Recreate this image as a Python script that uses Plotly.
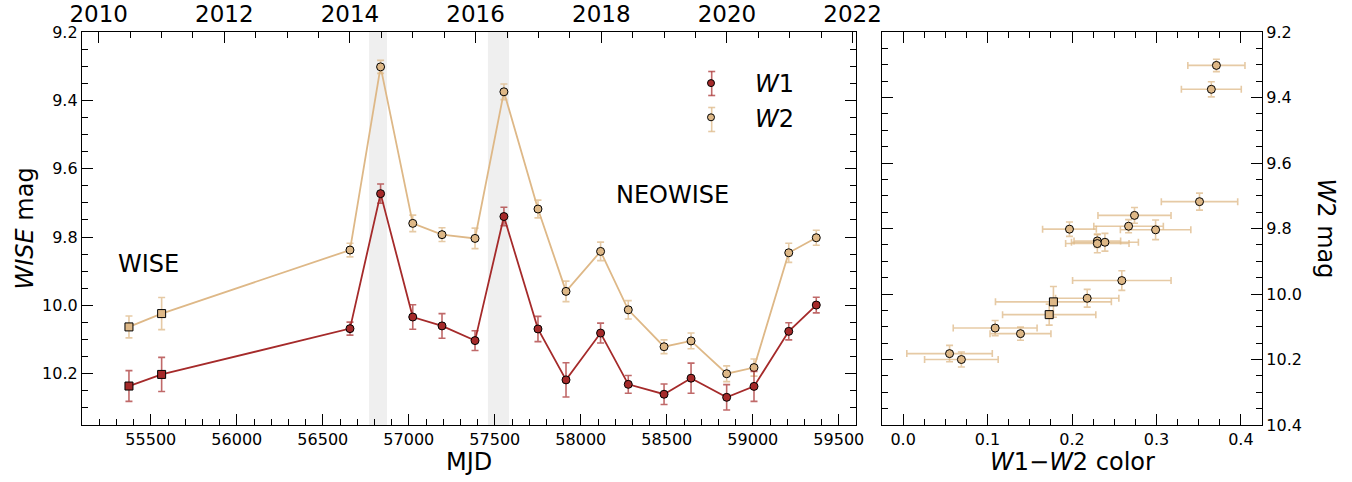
import plotly.graph_objects as go
import numpy as np

# ---------------- data ----------------
mjd = [55373, 55563, 56658, 56836, 57023, 57193, 57385, 57553, 57751, 57914,
       58115, 58276, 58484, 58641, 58848, 59007, 59209, 59369]
w1 = [10.236, 10.202, 10.068, 9.673, 10.034, 10.060, 10.103, 9.740, 10.069, 10.218,
      10.081, 10.231, 10.260, 10.213, 10.269, 10.237, 10.076, 9.999]
w1_err = [0.045, 0.050, 0.019, 0.028, 0.036, 0.036, 0.029, 0.027, 0.037, 0.050,
          0.029, 0.026, 0.030, 0.044, 0.037, 0.044, 0.025, 0.023]
w2 = [10.063, 10.024, 9.838, 9.302, 9.760, 9.793, 9.804, 9.375, 9.718, 9.959,
      9.842, 10.013, 10.121, 10.104, 10.200, 10.182, 9.846, 9.802]
w2_err = [0.032, 0.047, 0.020, 0.019, 0.024, 0.020, 0.030, 0.023, 0.026, 0.030,
          0.027, 0.027, 0.020, 0.023, 0.023, 0.025, 0.028, 0.022]
n_wise = 2  # first epochs are WISE (squares), rest NEOWISE (circles)
shade_intervals = [(56769, 56873), (57460, 57583)]

mjd_range = [55100, 59600]
mag_range_left = [10.35, 9.2]
mag_range_right = [10.4, 9.2]
color_range = [-0.025, 0.425]

C1 = "#a52a2a"
C2 = "#deb887"
C1E = "rgba(165,42,42,0.7)"
C2E = "rgba(222,184,135,0.75)"
FONT = "DejaVu Sans"

mjd = np.array(mjd); w1 = np.array(w1); w2 = np.array(w2)
w1_err = np.array(w1_err); w2_err = np.array(w2_err)
color = w1 - w2
color_err = np.sqrt(w1_err**2 + w2_err**2)
def mjd_to_year(m):
    return 2000.0 + (np.asarray(m, dtype=float) - 51544.5) / 365.25

W, H = 1352, 482
def px(x): return x / W
def py(y): return 1 - y / H

fig = go.Figure()

symbols = ["square"] * n_wise + ["circle"] * (len(mjd) - n_wise)

# lines (drawn under markers)
for y, c in [(w2, C2), (w1, C1)]:
    fig.add_trace(go.Scatter(x=mjd, y=y, mode="lines", line=dict(color=c, width=1.8),
                             showlegend=False, hoverinfo="skip", xaxis="x", yaxis="y"))
for y, c, ce, e in [(w2, C2, C2E, w2_err), (w1, C1, C1E, w1_err)]:
    fig.add_trace(go.Scatter(x=mjd, y=y, mode="markers",
                             marker=dict(color=c, size=8, symbol=symbols,
                                         line=dict(color="black", width=1)),
                             error_y=dict(type="data", array=e, color=ce, thickness=1.6, width=3.5),
                             showlegend=False, xaxis="x", yaxis="y"))

# invisible trace to activate year axis
fig.add_trace(go.Scatter(x=mjd_to_year(mjd), y=w2, mode="markers", marker=dict(opacity=0),
                         showlegend=False, hoverinfo="skip", xaxis="x3", yaxis="y"))

# right panel
fig.add_trace(go.Scatter(x=color, y=w2, mode="markers",
                         marker=dict(color=C2, size=8, symbol=symbols,
                                     line=dict(color="black", width=1)),
                         error_x=dict(type="data", array=color_err, color=C2E, thickness=1.6, width=3.5),
                         error_y=dict(type="data", array=w2_err, color=C2E, thickness=1.6, width=3.5),
                         showlegend=False, xaxis="x2", yaxis="y2"))

# legend entries
for name, c in [("<i>W</i>1", C1), ("<i>W</i>2", C2)]:
    fig.add_trace(go.Scatter(x=[None], y=[None], mode="markers", name=name,
                             marker=dict(color=c, size=7, line=dict(color="black", width=1)),
                             xaxis="x", yaxis="y"))

shapes = []
for a, b in shade_intervals:
    shapes.append(dict(type="rect", xref="x", yref="y domain", x0=a, x1=b, y0=0, y1=1,
                       fillcolor="#efefef", line=dict(width=0), layer="below"))
# legend error-bar glyphs
for ly, ce in [(83.5, C1E), (119.5, C2E)]:
    lx = 711.7
    shapes.append(dict(type="line", xref="paper", yref="paper", x0=px(lx), x1=px(lx),
                       y0=py(ly - 12), y1=py(ly + 12), line=dict(color=ce, width=1.6)))
    for dy in (-12, 12):
        shapes.append(dict(type="line", xref="paper", yref="paper", x0=px(lx - 3.5), x1=px(lx + 3.5),
                           y0=py(ly + dy), y1=py(ly + dy), line=dict(color=ce, width=1.6)))

tickfont = dict(family=FONT, size=16, color="black")
common = dict(ticks="inside", ticklen=11, tickwidth=1.2, tickcolor="black",
              showline=True, linecolor="black", linewidth=1.3, showgrid=False,
              zeroline=False, tickfont=tickfont, automargin=False)

ydom = [py(425), py(32)]
fig.update_layout(
    width=W, height=H, margin=dict(l=0, r=0, t=0, b=0),
    paper_bgcolor="white", plot_bgcolor="white",
    font=dict(family=FONT, color="black"),
    shapes=shapes,
    xaxis=dict(domain=[px(82), px(856)], range=mjd_range, anchor="y", dtick=500, tick0=55000,
               tickformat="d",
               minor=dict(ticks="inside", ticklen=6, dtick=100, tickcolor="black", tickwidth=1.0),
               **common),
    xaxis3=dict(overlaying="x", side="top", anchor="y",
                range=list(mjd_to_year(mjd_range)), dtick=2, tick0=2010, tickformat="d",
                minor=dict(ticks="inside", ticklen=6, dtick=0.5, tickcolor="black", tickwidth=1.0),
                **{**common, "tickfont": dict(family=FONT, size=23, color="black")}),
    yaxis=dict(domain=ydom, range=mag_range_left, anchor="x", dtick=0.2, tick0=9.2,
               tickformat=".1f", mirror="ticks",
               minor=dict(ticks="inside", ticklen=6, dtick=0.05, tickcolor="black", tickwidth=1.0),
               **common),
    xaxis2=dict(domain=[px(882), px(1262)], range=color_range, anchor="y2", dtick=0.1, tick0=0,
                tickformat=".1f", mirror="ticks",
                minor=dict(ticks="inside", ticklen=6, dtick=0.025, tickcolor="black", tickwidth=1.0),
                **common),
    yaxis2=dict(domain=ydom, range=mag_range_right, anchor="x2", side="right", dtick=0.2, tick0=9.2,
                tickformat=".1f", mirror="ticks",
                minor=dict(ticks="inside", ticklen=6, dtick=0.05, tickcolor="black", tickwidth=1.0),
                **common),
    legend=dict(x=px(667), y=py(61), xanchor="left", yanchor="top", itemwidth=78,
                font=dict(family=FONT, size=24, color="black"), bgcolor="rgba(0,0,0,0)",
                traceorder="normal"),
    annotations=[
        dict(text="<i>WISE</i> mag", x=px(24), y=py(228.5), xref="paper", yref="paper",
             textangle=-90, showarrow=False, font=dict(size=24), xanchor="center", yanchor="middle"),
        dict(text="MJD", x=px(469), y=py(462), xref="paper", yref="paper",
             showarrow=False, font=dict(size=24), xanchor="center", yanchor="middle"),
        dict(text="<i>W</i>1\u2212<i>W</i>2 color", x=px(1072.5), y=py(462), xref="paper", yref="paper",
             showarrow=False, font=dict(size=24), xanchor="center", yanchor="middle"),
        dict(text="<i>W</i>2 mag", x=px(1326), y=py(228.5), xref="paper", yref="paper",
             textangle=90, showarrow=False, font=dict(size=24), xanchor="center", yanchor="middle"),
        dict(text="WISE", x=px(148), y=py(263.7), xref="paper", yref="paper",
             showarrow=False, font=dict(size=24), xanchor="center", yanchor="middle"),
        dict(text="NEOWISE", x=px(672.5), y=py(195), xref="paper", yref="paper",
             showarrow=False, font=dict(size=24), xanchor="center", yanchor="middle"),
    ],
)

fig.write_html("out.html")
